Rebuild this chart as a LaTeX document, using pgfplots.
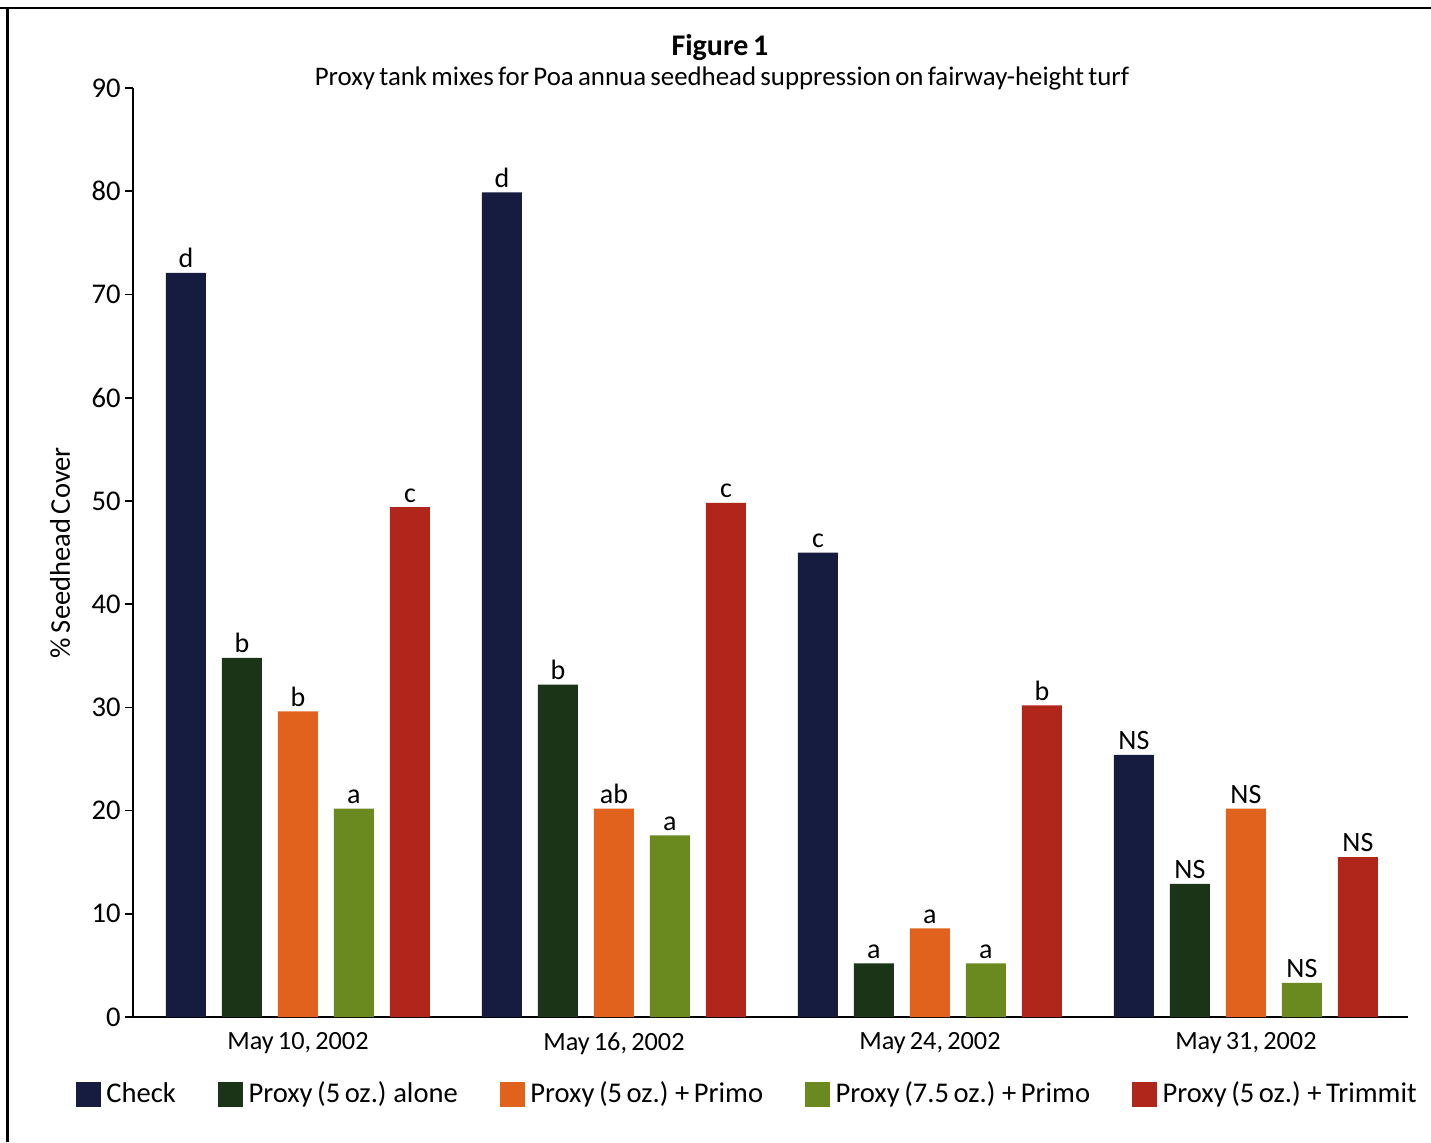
\documentclass[border=0pt]{standalone}
\usepackage{fontspec}
\setmainfont{Carlito}[WordSpace=0.7]
\usepackage{pgfplots}
\pgfplotsset{compat=1.18}
\definecolor{cCheck}{HTML}{161C40}
\definecolor{cAlone}{HTML}{1B3317}
\definecolor{cPrimo}{HTML}{E0621C}
\definecolor{cSeven}{HTML}{6A8A1F}
\definecolor{cTrim}{HTML}{B1261A}
\begin{document}
\begin{tikzpicture}
\path[use as bounding box] (0pt,0pt) rectangle (500.85pt,-399.7pt);
\draw[line width=1pt] (0pt,-2.8pt) -- (500.85pt,-2.8pt);
\draw[line width=1pt] (2.6pt,-2.8pt) -- (2.6pt,-399.7pt);
\node[font=\fontsize{10.5}{12}\selectfont\bfseries] at (252pt,-16.8pt) {Figure 1};
\node[font=\fontsize{9.4}{12}\selectfont] at (252.7pt,-27.3pt) {Proxy tank mixes for Poa annua seedhead suppression on fairway-height turf};
\begin{axis}[
  at={(46.55pt,-355.95pt)}, anchor=south west,
  scale only axis, width=446.25pt, height=325.15pt,
  ymin=0, ymax=90, ytick={0,10,...,90},
  xmin=-0.522, xmax=3.513,
  xtick={0,1,2,3},
  xticklabels={{May 10, 2002},{May 16, 2002},{May 24, 2002},{May 31, 2002}},
  axis x line=bottom, axis y line=left,
  axis line style={-, line width=0.9pt},
  x tick style={draw=none},
  y tick style={line width=0.6pt, black},
  tick align=outside, major tick length=2.8pt,
  /pgf/number format/assume math mode=true,
  yticklabel style={font=\fontsize{10}{12}\selectfont, xshift=2pt},
  xticklabel style={font=\fontsize{9.2}{12}\selectfont, yshift=0.8pt},
  ylabel={\% Seedhead Cover},
  ylabel style={font=\fontsize{9.3}{12}\selectfont},
  every axis y label/.style={at={(rel axis cs:0,0.5)}, xshift=-25.5pt, rotate=90, anchor=center},
  ybar=5.6pt, bar width=14pt,
  nodes near coords, point meta=explicit symbolic,
  every node near coord/.append style={font=\fontsize{9.8}{11}\selectfont, text=black, inner sep=1.5pt},
  legend columns=5,
  legend style={at={(-0.0455,-0.0832)}, anchor=west, draw=none, fill=none, inner sep=0pt,
     font=\fontsize{10}{12}\selectfont, /tikz/every even column/.append style={column sep=12.6pt}},
  legend image code/.code={\path[#1,draw=none] (0pt,-4.4pt) rectangle (8.8pt,4.4pt);},
  clip=false,
]
\addplot[fill=cCheck, draw=none] coordinates {(0,72.1) [d] (1,79.9) [d] (2,45.0) [c] (3,25.4) [NS]};
\addplot[fill=cAlone, draw=none] coordinates {(0,34.8) [b] (1,32.2) [b] (2,5.2) [a] (3,12.9) [NS]};
\addplot[fill=cPrimo, draw=none] coordinates {(0,29.6) [b] (1,20.2) [ab] (2,8.6) [a] (3,20.2) [NS]};
\addplot[fill=cSeven, draw=none] coordinates {(0,20.2) [a] (1,17.6) [a] (2,5.2) [a] (3,3.3) [NS]};
\addplot[fill=cTrim, draw=none] coordinates {(0,49.4) [c] (1,49.8) [c] (2,30.2) [b] (3,15.5) [NS]};
\legend{Check, Proxy (5 oz.) alone, Proxy (5 oz.) + Primo, Proxy (7.5 oz.) + Primo, Proxy (5 oz.) + Trimmit}
\end{axis}
\end{tikzpicture}
\end{document}
